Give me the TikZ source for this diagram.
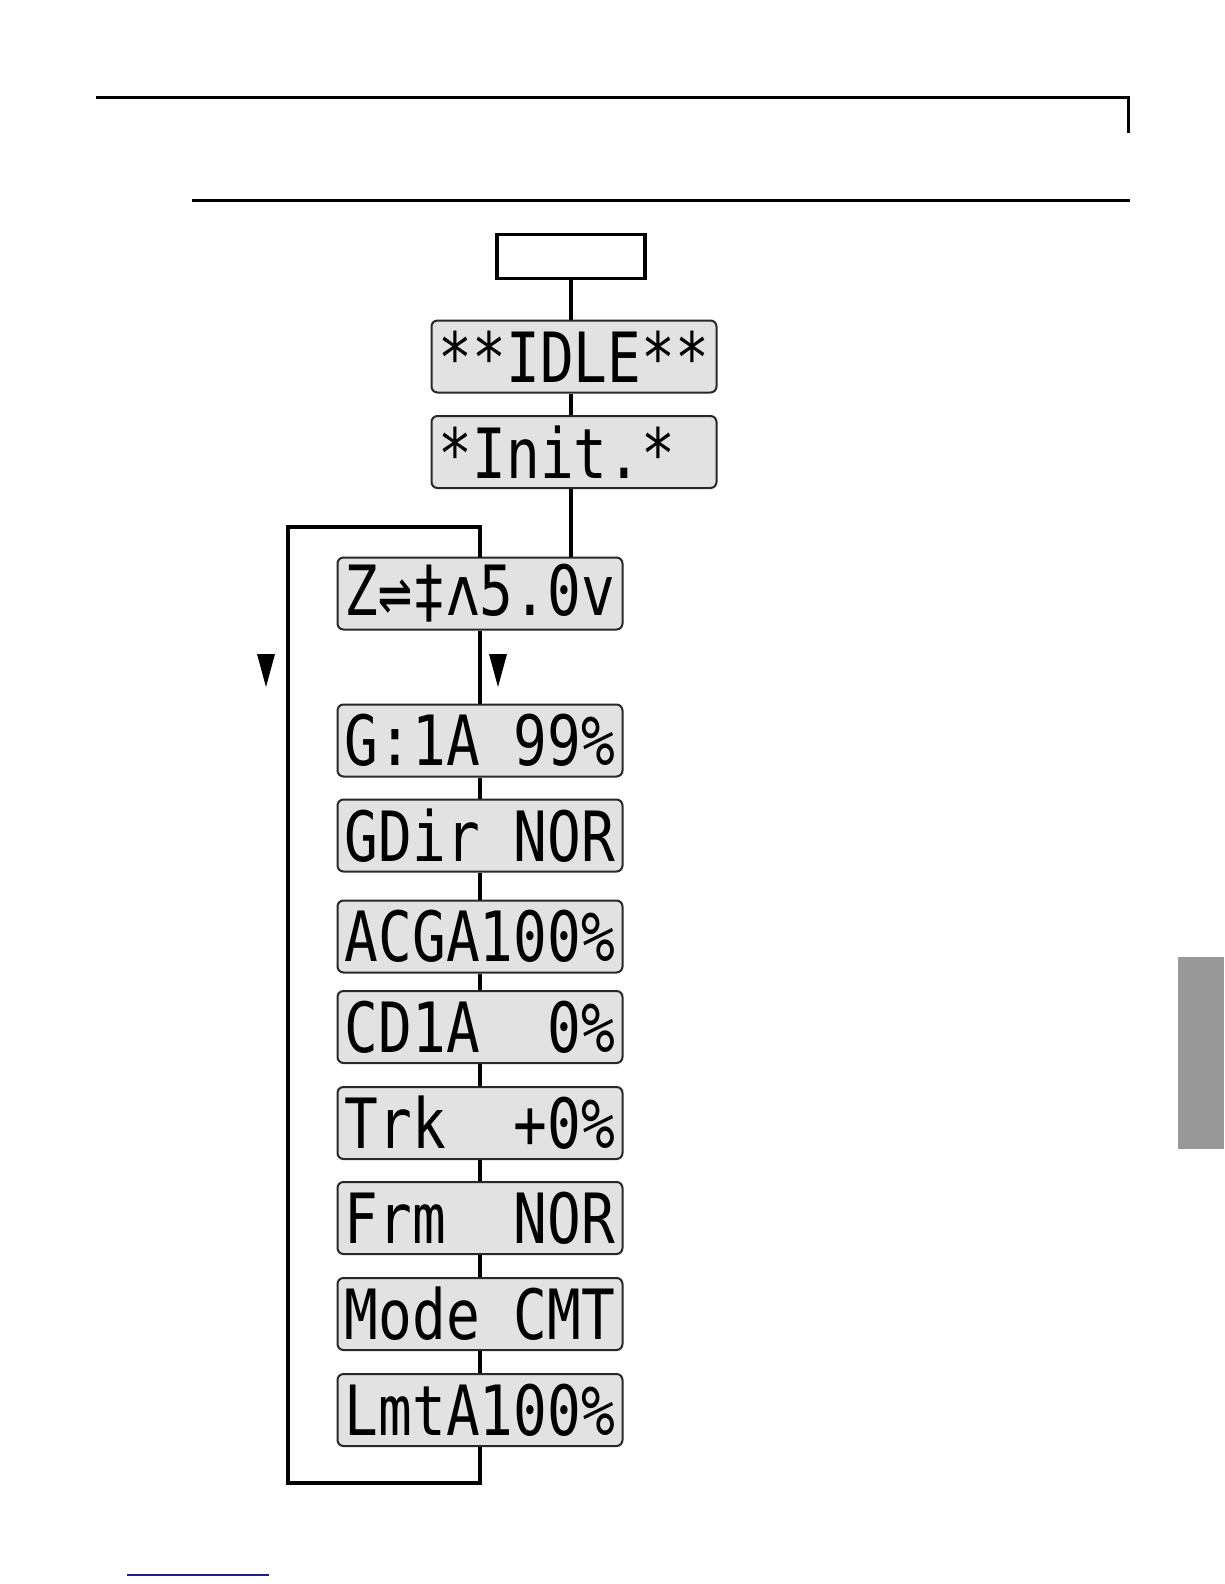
\documentclass[tikz,border=0pt]{standalone}
\usepackage{fontspec}
\usepackage{graphicx}
\newfontfamily\lcdfont{DejaVu Sans Mono}
\definecolor{lcdfill}{RGB}{226,226,226}
\definecolor{lcdedge}{RGB}{40,40,40}
\definecolor{tabgray}{RGB}{153,153,153}
\definecolor{navyline}{RGB}{30,30,140}
\tikzset{
  lcd/.style={draw=lcdedge, line width=2pt, fill=lcdfill, rounded corners=6pt,
    minimum width=285pt, minimum height=72pt, inner sep=0pt,
    font=\lcdfont\fontsize{55}{60}\selectfont},
  startbox/.style={draw=black, line width=3.2pt, fill=white,
    minimum width=148pt, minimum height=44pt, inner sep=0pt},
  link/.style={draw=black, line width=3.4pt, line join=miter},
  rulebar/.style={draw=black, line width=3pt, line join=miter},
  dirmark/.style={fill=black},
}
\newcommand{\lcdtxt}[1]{\scalebox{1.02}[1.26]{#1}}
\begin{document}
\begin{tikzpicture}[x=1pt,y=-1pt]
\useasboundingbox (0,0) rectangle (1224,1584);
% page rules and tab
\draw[rulebar] (96,97.5) -- (1128,97.5) -- (1128,133);
\draw[rulebar] (192,200) -- (1130,200);
\fill[tabgray] (1178,957) rectangle (1224,1149);
\draw[navyline, line width=1.5pt] (127,1575) -- (269,1575);

% boxes
\node[startbox] (start) at (571,256.5) {};
\node[lcd] (idle) at (574,356.5) {\lcdtxt{**IDLE**}};
\node[lcd] (init) at (574,452) {\lcdtxt{*Init.*~}};
\node[lcd] (zs) at (480,593.5) {\lcdtxt{Z⇌‡ʌ5.0v}};
\node[lcd] (gain) at (480,740.5) {\lcdtxt{G:1A~99\%}};
\node[lcd] (gdir) at (480,835.5) {\lcdtxt{GDir~NOR}};
\node[lcd] (acga) at (480,936.5) {\lcdtxt{ACGA100\%}};
\node[lcd] (cd) at (480,1027) {\lcdtxt{CD1A~~0\%}};
\node[lcd] (trk) at (480,1123) {\lcdtxt{Trk~~+0\%}};
\node[lcd] (frm) at (480,1218) {\lcdtxt{Frm~~NOR}};
\node[lcd] (mode) at (480,1314) {\lcdtxt{Mode~CMT}};
\node[lcd] (lmt) at (480,1410) {\lcdtxt{LmtA100\%}};

% connectors
\draw[link] (start.south) -- (start.south |- idle.north);
\draw[link] (idle.south -| start.south) -- (init.north -| start.south);
\draw[link] (init.south -| start.south) -- (zs.north -| start.south);
\draw[link] (zs.south) -- (gain.north);
\draw[link] (gain.south) -- (gdir.north);
\draw[link] (gdir.south) -- (acga.north);
\draw[link] (acga.south) -- (cd.north);
\draw[link] (cd.south) -- (trk.north);
\draw[link] (trk.south) -- (frm.north);
\draw[link] (frm.south) -- (mode.north);
\draw[link] (mode.south) -- (lmt.north);
\coordinate (loopbl) at (288,1483);
\coordinate (looptl) at (288,527);
\draw[link] (lmt.south) |- (loopbl) -- (looptl) -| (zs.north);

% direction marks
\fill[dirmark] (257,654) -- (275,654) -- (266,687) -- cycle;
\fill[dirmark] (489,654) -- (507,654) -- (498,687) -- cycle;
\end{tikzpicture}
\end{document}
